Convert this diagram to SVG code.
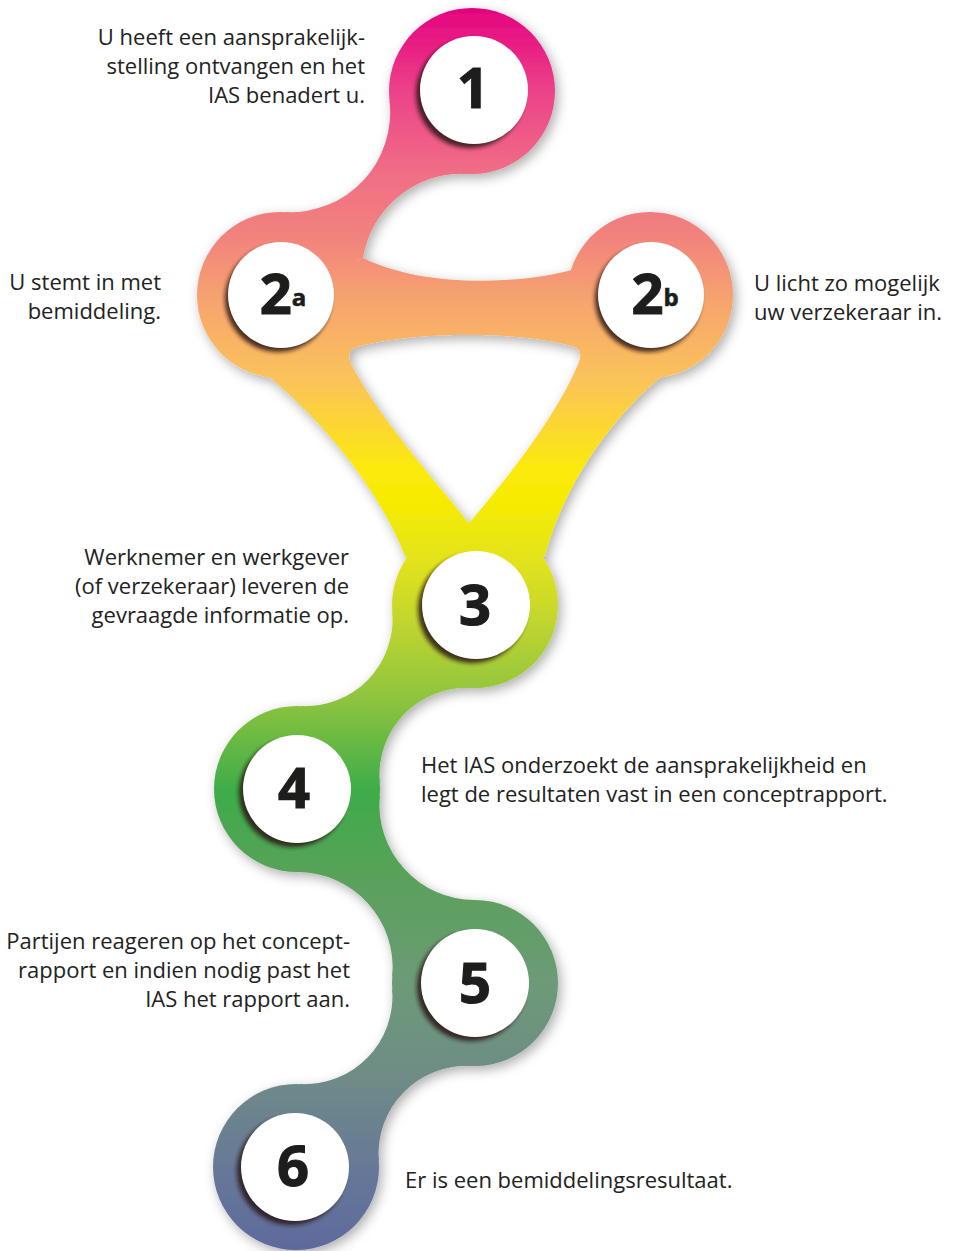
<svg xmlns="http://www.w3.org/2000/svg" width="958" height="1251" viewBox="0 0 958 1251">
  <defs>
    <linearGradient id="grad" gradientUnits="userSpaceOnUse" x1="0" y1="5" x2="0" y2="1250">
      <stop offset="0" stop-color="#e4007f"/>
      <stop offset="0.068" stop-color="#ec4189"/>
      <stop offset="0.133" stop-color="#f06d86"/>
      <stop offset="0.189" stop-color="#f2847c"/>
      <stop offset="0.237" stop-color="#f6a46f"/>
      <stop offset="0.301" stop-color="#fbc35a"/>
      <stop offset="0.373" stop-color="#fcea0c"/>
      <stop offset="0.398" stop-color="#f7ec00"/>
      <stop offset="0.446" stop-color="#e3e31c"/>
      <stop offset="0.494" stop-color="#c2d62e"/>
      <stop offset="0.558" stop-color="#8dc43f"/>
      <stop offset="0.631" stop-color="#3dac48"/>
      <stop offset="0.703" stop-color="#5aa15b"/>
      <stop offset="0.783" stop-color="#6c9b76"/>
      <stop offset="0.863" stop-color="#6f8b87"/>
      <stop offset="0.936" stop-color="#667898"/>
      <stop offset="1" stop-color="#5e6a9c"/>
    </linearGradient>
    <filter id="shadow" x="-20%" y="-10%" width="140%" height="120%">
      <feDropShadow dx="3" dy="4" stdDeviation="6" flood-color="#000" flood-opacity="0.32"/>
    </filter>
    <filter id="soft" x="-20%" y="-20%" width="140%" height="140%">
      <feGaussianBlur stdDeviation="2"/>
    </filter>
    <mask id="holeMask" maskUnits="userSpaceOnUse" x="0" y="0" width="958" height="1251">
      <rect width="958" height="1251" fill="#fff"/>
      <path d="M360 346 C420 331 515 331 572 346 Q584 349 579 362 C555 420 505 480 471 521 Q469 524 467 521 C435 480 380 420 350 362 Q346 349 360 346 Z" fill="#000"/>
    </mask>
    <style>
      .lbl { font-family: "Open Sans", "Noto Sans", "Liberation Sans", sans-serif; font-size: 22px; fill: #222; }
      .r { text-anchor: end; }
      .num { font-family: "Open Sans", "Noto Sans", "Liberation Sans", sans-serif; font-size: 56px; font-weight: 700; fill: #1d1d1b; stroke: #1d1d1b; stroke-width: 1.2px; text-anchor: middle; }
      .sub { font-size: 24px; stroke-width: 0.6px; }
      .disc { fill: #fff; }
      .dshadow { fill: #2a1212; opacity: 0.85; }
    </style>
  </defs>

  <g id="track" filter="url(#shadow)">
    <g mask="url(#holeMask)" fill="url(#grad)">
      <circle cx="472" cy="91" r="83"/>
      <circle cx="280" cy="295" r="83"/>
      <circle cx="650" cy="295" r="83"/>
      <circle cx="475" cy="605" r="83"/>
      <circle cx="297" cy="789" r="83"/>
      <circle cx="475" cy="983" r="83"/>
      <circle cx="296" cy="1167" r="83"/>
      <g id="connectors">
        <path d="M389.5 100.6 A100 100 0 0 1 284.6 212.1 L280 295 L363.1 258 A100 100 0 0 1 467.4 173.9 Z"/>
        <path d="M363.1 258 C420 286 510 286 572 270 L650 295 L662 376 C615 415 565 480 545 556 L475 605 L405 556 C375 480 315 415 268 376 L280 295 Z"/>
        <path d="M392.3 611.8 A87.2 87.2 0 0 1 301.1 706.1 L297 789 L379.7 782.2 A87.2 87.2 0 0 1 470.9 687.9 L475 605 Z"/>
        <path d="M379.7 796.3 A95.4 95.4 0 0 0 474.9 900 L475 983 L392.3 975.7 A95.4 95.4 0 0 0 297.1 872 L297 789 Z"/>
        <path d="M392.2 989.4 A88 88 0 0 1 300.1 1084.1 L296 1167 L378.8 1160.6 A88 88 0 0 1 470.9 1065.9 L475 983 Z"/>
      </g>
    </g>
  </g>

  <g id="node-1">
    <circle class="dshadow" cx="470" cy="94" r="54" filter="url(#soft)"/>
    <circle class="disc" cx="474" cy="90" r="54"/>
    <text class="num" x="473" y="108">1</text>
    <text class="lbl r" x="365"><tspan x="365" y="45">U heeft een aansprakelijk-</tspan><tspan x="365" y="74">stelling ontvangen en het</tspan><tspan x="365" y="103">IAS benadert u.</tspan></text>
  </g>

  <g id="node-2a">
    <circle class="dshadow" cx="278" cy="299" r="53" filter="url(#soft)"/>
    <circle class="disc" cx="281" cy="295" r="53"/>
    <text class="num" x="283" y="314">2<tspan class="sub" dy="-8">a</tspan></text>
    <text class="lbl r" x="161"><tspan x="161" y="290">U stemt in met</tspan><tspan x="161" y="319">bemiddeling.</tspan></text>
  </g>

  <g id="node-2b">
    <circle class="dshadow" cx="648" cy="299" r="53" filter="url(#soft)"/>
    <circle class="disc" cx="651" cy="295" r="53"/>
    <text class="num" x="655" y="314">2<tspan class="sub" dy="-8">b</tspan></text>
    <text class="lbl" x="754"><tspan x="754" y="291">U licht zo mogelijk</tspan><tspan x="754" y="320">uw verzekeraar in.</tspan></text>
  </g>

  <g id="node-3">
    <circle class="dshadow" cx="472" cy="609" r="54" filter="url(#soft)"/>
    <circle class="disc" cx="476" cy="605" r="54"/>
    <text class="num" x="475" y="625">3</text>
    <text class="lbl r" x="349"><tspan x="349" y="565">Werknemer en werkgever</tspan><tspan x="349" y="594">(of verzekeraar) leveren de</tspan><tspan x="349" y="623">gevraagde informatie op.</tspan></text>
  </g>

  <g id="node-4">
    <circle class="dshadow" cx="293" cy="793" r="54" filter="url(#soft)"/>
    <circle class="disc" cx="297" cy="789" r="54"/>
    <text class="num" x="294" y="808">4</text>
    <text class="lbl" x="421"><tspan x="421" y="773">Het IAS onderzoekt de aansprakelijkheid en</tspan><tspan x="421" y="802">legt de resultaten vast in een conceptrapport.</tspan></text>
  </g>

  <g id="node-5">
    <circle class="dshadow" cx="471" cy="987" r="54" filter="url(#soft)"/>
    <circle class="disc" cx="475" cy="983" r="54"/>
    <text class="num" x="475" y="1003">5</text>
    <text class="lbl r" x="350"><tspan x="350" y="949">Partijen reageren op het concept-</tspan><tspan x="350" y="978">rapport en indien nodig past het</tspan><tspan x="350" y="1007">IAS het rapport aan.</tspan></text>
  </g>

  <g id="node-6">
    <circle class="dshadow" cx="291" cy="1171" r="54" filter="url(#soft)"/>
    <circle class="disc" cx="295" cy="1167" r="54"/>
    <text class="num" x="293" y="1186">6</text>
    <text class="lbl" x="405" y="1188">Er is een bemiddelingsresultaat.</text>
  </g>
</svg>
